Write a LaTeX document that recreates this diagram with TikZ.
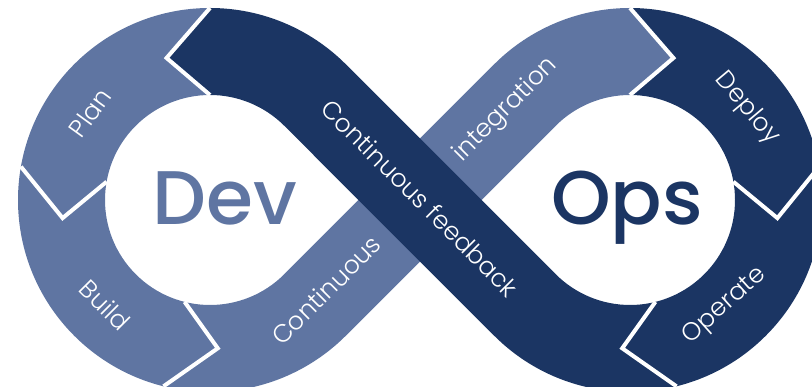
\documentclass[tikz,border=0pt]{standalone}
\usepackage{fontspec}
\setmainfont{Poppins}
\newfontfamily\thinfont{Poppins Light}
\newfontfamily\headfont{Poppins Medium}
\usetikzlibrary{calc}
\definecolor{devblue}{HTML}{5F75A2}
\definecolor{opsblue}{HTML}{1B3563}

\begin{document}
\begin{tikzpicture}[x=1pt, y=1pt,
	cutline/.style={draw=white, line width=4pt, line join=miter, line cap=square},
	steplabel/.style={text=white, font=\thinfont\fontsize{25}{25}\selectfont, inner sep=0pt},
	bigword/.style={font=\headfont\fontsize{76}{76}\selectfont, inner sep=0pt, anchor=base},
	]
		\useasboundingbox (0,0) rectangle (812,387);
		\clip (0,0) rectangle (812,387);

		%Centres
		\coordinate (L) at (210,187);
		\coordinate (R) at (630,187);

		%Bands
		\fill[devblue] ($(L)+(90:192)$) arc[start angle=90, end angle=315, radius=192pt]
			-- ($(R)+(135:105)$) arc[start angle=135, end angle=90, radius=105pt]
			-- ($(R)+(73:148.5)$) -- ($(R)+(90:192)$) arc[start angle=90, end angle=135, radius=192pt]
			-- ($(L)+(315:105)$) arc[start angle=315, end angle=90, radius=105pt]
			-- ($(L)+(107:148.5)$) -- cycle;
		\fill[opsblue] ($(L)+(90:192)$) -- ($(L)+(107:148.5)$) -- ($(L)+(90:105)$)
			arc[start angle=90, end angle=45, radius=105pt]
			-- ($(R)+(225:192)$) arc[start angle=225, end angle=450, radius=192pt]
			-- ($(R)+(73:148.5)$) -- ($(R)+(90:105)$) arc[start angle=90, end angle=-135, radius=105pt]
			-- ($(L)+(45:192)$) arc[start angle=45, end angle=90, radius=192pt] -- cycle;

		%Cuts
		\draw[cutline] ($(L)+(90:192)$) -- ($(L)+(107:148.5)$) -- ($(L)+(90:105)$);
		\draw[cutline] ($(L)+(170:192)$) -- ($(L)+(187:148.5)$) -- ($(L)+(170:105)$);
		\draw[cutline] ($(L)+(256:192)$) -- ($(L)+(273:148.5)$) -- ($(L)+(256:105)$);
		\draw[cutline] ($(R)+(90:192)$) -- ($(R)+(73:148.5)$) -- ($(R)+(90:105)$);
		\draw[cutline] ($(R)+(10:192)$) -- ($(R)+(-7:148.5)$) -- ($(R)+(10:105)$);
		\draw[cutline] ($(R)+(284:192)$) -- ($(R)+(267:148.5)$) -- ($(R)+(284:105)$);

		%Labels
		\node[steplabel, rotate=54]  (plan)    at ($(L)+(144:148.5)$) {Plan};
		\node[steplabel, rotate=-45] (build)   at ($(L)+(225:148.5)$) {Build};
		\node[steplabel, rotate=45]  (contci)  at (326,97)  {Continuous};
		\node[steplabel, rotate=45]  (integ)   at (506,277) {integration};
		\node[steplabel, rotate=-45] (feedback) at (420,189) {Continuous feedback};
		\node[steplabel, rotate=-50] (deploy)  at ($(R)+(38:148.5)$) {Deploy};
		\node[steplabel, rotate=42]  (operate) at (725,81)  {Operate};

		\node[bigword, text=devblue] (dev) at (225,162) {Dev};
		\node[bigword, text=opsblue] (ops) at (627,162) {Ops};
\end{tikzpicture}
\end{document}
